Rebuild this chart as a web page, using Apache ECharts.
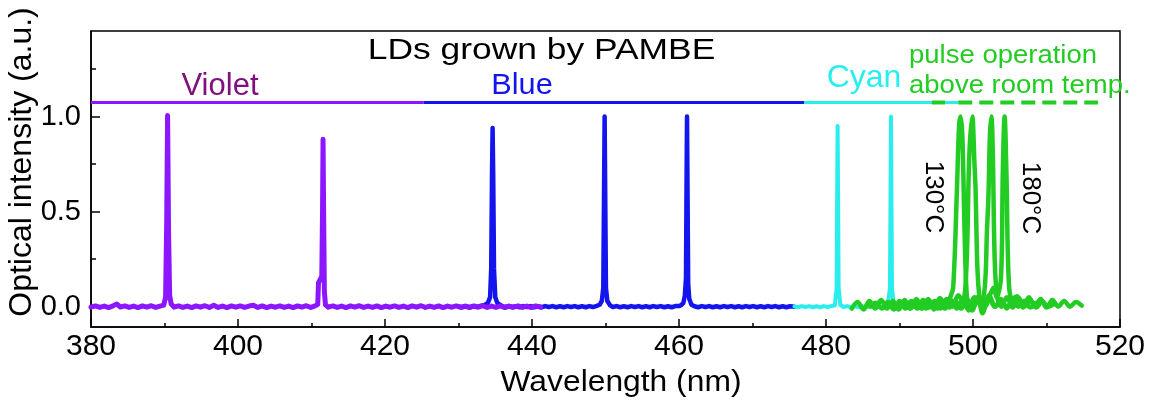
<!DOCTYPE html>
<html>
<head>
<meta charset="utf-8">
<script src="https://cdn.jsdelivr.net/npm/echarts@6/dist/echarts.min.js"></script>
<style>html,body{margin:0;padding:0;background:#fff;}#c{width:1156px;height:406px;}</style>
</head>
<body>
<div id="c"></div>
<script>
// ---- data (wavelength nm, intensity a.u.) ----
const xTicks = [380, 400, 420, 440, 460, 480, 500, 520];
const yMajorTicks = [0, 0.5, 1.0];
const yMinorTicks = [0.25, 0.75, 1.25];

const violetSpec = [[380.0,-0.003],[380.6,0.004],[381.2,-0.004],[381.8,0.003],[382.4,-0.005],[383.0,0.004],[383.5,0.014],[384.0,-0.002],[384.6,0.004],[385.2,-0.004],[385.8,0.003],[386.4,-0.005],[387.0,0.004],[387.6,-0.003],[388.2,0.005],[388.8,-0.004],[389.4,0.003],[389.9,0.008],[390.15,0.05],[390.3,0.45],[390.42,1.005],[390.55,0.40],[390.7,0.06],[390.9,0.015],[391.3,-0.003],[391.9,0.004],[392.5,-0.004],[393.1,0.003],[393.7,-0.005],[394.3,0.004],[394.9,-0.003],[395.5,0.005],[396.1,-0.004],[396.7,0.007],[397.3,-0.004],[397.9,0.003],[398.5,-0.005],[399.1,0.004],[399.7,-0.003],[400.3,0.004],[400.9,-0.004],[401.5,0.003],[402.1,0.007],[402.7,-0.004],[403.3,0.004],[403.9,-0.005],[404.5,0.003],[405.1,-0.003],[405.7,0.004],[406.3,-0.004],[406.9,0.003],[407.5,-0.005],[408.1,0.004],[408.7,-0.003],[409.3,0.005],[409.9,-0.004],[410.5,0.004],[410.85,0.012],[410.95,0.125],[411.2,0.135],[411.4,0.16],[411.5,0.5],[411.57,0.88],[411.65,0.5],[411.75,0.08],[411.9,0.01],[412.3,-0.003],[412.9,0.004],[413.5,-0.004],[414.1,0.003],[414.7,-0.005],[415.3,0.004],[415.9,-0.003],[416.5,0.005],[417.1,-0.004],[417.7,0.003],[418.3,-0.004],[418.9,0.004],[419.5,-0.005],[420.1,0.003],[420.7,-0.003],[421.3,0.004],[421.9,-0.004],[422.5,0.003],[423.1,-0.005],[423.7,0.004],[424.3,-0.003],[424.9,0.005],[425.5,-0.004],[426.1,0.003],[426.7,-0.004],[427.3,0.004],[427.9,-0.005],[428.5,0.003],[429.1,-0.003],[429.7,0.004],[430.3,-0.004],[430.9,0.003],[431.5,-0.005],[432.1,0.004],[432.7,-0.003],[433.3,0.005],[433.9,-0.004],[434.5,0.003],[435.1,-0.004],[435.7,0.004],[436.3,-0.005],[436.9,0.003],[437.5,-0.003],[438.1,0.004],[438.7,-0.004],[439.3,0.003],[439.9,-0.005],[440.5,0.004],[441.2,-0.003]];

const blueSpec = [[430.0,0.001],[430.5,-0.003],[431.0,0.003],[431.5,-0.003],[432.0,0.002],[432.5,-0.002],[433.0,0.004],[433.5,0.008],[434.0,0.02],[434.3,0.05],[434.45,0.2],[434.56,0.7],[434.64,0.94],[434.72,0.7],[434.83,0.2],[435.0,0.05],[435.3,0.018],[435.8,0.006],[436.3,-0.002],[436.8,0.003],[437.3,-0.003],[437.8,0.002],[438.3,-0.003],[438.8,0.003],[439.3,-0.002],[439.8,0.003],[440.3,-0.003],[440.8,0.002],[441.3,-0.003],[441.8,0.003],[442.3,-0.002],[442.8,0.003],[443.3,-0.003],[443.8,0.002],[444.3,-0.003],[444.8,0.003],[445.3,-0.002],[445.8,0.003],[446.3,-0.003],[446.8,0.002],[447.3,-0.003],[447.8,0.003],[448.3,-0.002],[448.8,0.004],[449.2,0.01],[449.5,0.03],[449.7,0.1],[449.8,0.6],[449.88,1.0],[449.96,0.6],[450.06,0.1],[450.25,0.03],[450.6,0.008],[451.0,-0.002],[451.5,0.003],[452.0,-0.003],[452.5,0.002],[453.0,-0.003],[453.5,0.003],[454.0,-0.002],[454.5,0.003],[455.0,-0.003],[455.5,0.002],[456.0,-0.003],[456.5,0.003],[457.0,-0.002],[457.5,0.003],[458.0,-0.003],[458.5,0.002],[459.0,-0.003],[459.5,0.003],[460.0,0.003],[460.3,0.008],[460.6,0.02],[460.8,0.06],[460.95,0.15],[461.02,0.6],[461.09,1.0],[461.16,0.6],[461.25,0.12],[461.4,0.04],[461.7,0.01],[462.1,0.002],[462.6,-0.003],[463.1,0.003],[463.6,-0.002],[464.1,0.003],[464.6,-0.003],[465.1,0.002],[465.6,-0.003],[466.1,0.003],[466.6,-0.002],[467.1,0.003],[467.6,-0.003],[468.1,0.002],[468.6,-0.003],[469.1,0.003],[469.6,-0.002],[470.1,0.003],[470.6,-0.003],[471.1,0.002],[471.6,-0.003],[472.1,0.003],[472.6,-0.002],[473.1,0.003],[473.6,-0.003],[474.1,0.002],[474.6,-0.003],[475.1,0.002],[475.7,0.000]];

const cyanSpec = [[475.7,0.001],[476.2,-0.003],[476.7,0.003],[477.2,-0.002],[477.7,0.003],[478.2,-0.003],[478.7,0.002],[479.2,-0.003],[479.7,0.003],[480.2,-0.002],[480.7,0.003],[481.2,0.006],[481.45,0.1],[481.52,0.6],[481.58,0.95],[481.64,0.6],[481.72,0.1],[481.95,0.01],[482.4,-0.002],[482.9,0.003],[483.4,-0.003],[483.9,0.002],[484.4,-0.003],[484.9,0.003],[485.4,-0.002],[485.9,0.003],[486.4,-0.003],[486.9,0.002],[487.4,-0.003],[487.9,0.003],[488.4,0.006],[488.7,0.1],[488.78,0.6],[488.84,1.0],[488.9,0.6],[488.98,0.1],[489.2,0.01],[489.7,0.0],[490.2,0.002]];

const green130 = [[483.5,-0.01],[484.3,0.025],[485.1,-0.015],[485.9,0.03],[486.7,-0.01],[487.5,0.035],[488.3,-0.01],[489.1,0.03],[489.9,-0.015],[490.7,0.035],[491.5,-0.01],[492.3,0.04],[493.1,-0.01],[493.9,0.04],[494.7,-0.015],[495.5,0.045],[496.3,-0.005],[496.9,0.05],[497.3,0.1],[497.8,0.6],[498.1,0.95],[498.3,1.0],[498.55,0.9],[498.85,0.4],[499.15,0.06],[499.5,0.0],[499.9,-0.02],[500.6,0.05],[501.4,-0.01],[502.2,0.04],[503.0,0.0],[503.8,0.03],[504.6,0.0],[505.4,0.025],[506.0,0.005]];

const green147 = [[486.0,0.0],[486.8,0.02],[487.6,-0.01],[488.4,0.025],[489.2,-0.015],[490.0,0.03],[490.8,-0.01],[491.6,0.03],[492.4,-0.01],[493.2,0.035],[494.0,-0.005],[494.8,0.03],[495.6,-0.01],[496.4,0.04],[497.2,0.0],[498.0,0.06],[498.6,0.03],[499.1,0.2],[499.5,0.8],[499.9,1.0],[500.2,0.75],[500.35,0.62],[500.6,0.2],[500.9,0.04],[501.3,-0.035],[502.2,0.06],[503.0,0.0],[503.8,0.04],[504.6,-0.01],[505.4,0.035],[506.2,0.0],[507.0,0.03],[507.8,-0.005],[508.6,0.02],[509.0,0.01]];

const green163 = [[489.0,0.01],[489.8,-0.01],[490.6,0.02],[491.4,-0.01],[492.2,0.025],[493.0,-0.01],[493.8,0.03],[494.6,-0.005],[495.4,0.03],[496.2,-0.01],[497.0,0.035],[497.8,-0.01],[498.6,0.04],[499.4,-0.02],[500.2,0.05],[501.0,0.01],[501.6,0.1],[501.9,0.4],[502.1,0.58],[502.3,0.9],[502.5,1.0],[502.7,0.8],[502.95,0.25],[503.3,0.05],[503.9,0.0],[504.6,0.05],[505.4,-0.005],[506.2,0.045],[507.0,0.0],[507.8,0.035],[508.6,-0.005],[509.4,0.03],[510.2,0.0],[511.0,0.015]];

const green180 = [[492.0,0.0],[492.8,0.02],[493.6,-0.01],[494.4,0.025],[495.2,-0.01],[496.0,0.03],[496.8,-0.005],[497.6,0.03],[498.4,-0.01],[499.2,0.035],[500.0,0.0],[500.8,0.045],[501.6,0.0],[502.4,0.07],[502.8,0.1],[503.2,0.05],[503.8,0.15],[504.05,0.7],[504.3,1.0],[504.55,0.7],[504.85,0.15],[505.3,0.04],[506.0,0.055],[506.8,-0.005],[507.6,0.05],[508.4,0.0],[509.2,0.04],[510.0,-0.005],[510.8,0.035],[511.6,0.0],[512.4,0.03],[513.2,0.0],[514.0,0.025],[514.8,0.005]];

// range bars (wavelength span, level)
const violetRange = [[380, 1.074], [425.25, 1.074]];
const blueRange = [[425.25, 1.074], [477.05, 1.074]];
const cyanRange = [[477.05, 1.074], [498.0, 1.074]];
const greenRangeA = [[494.4, 1.074], [496.2, 1.074]];
const greenRangeB = [[498.0, 1.074], [517.0, 1.074]];

// ---- chart ----
const FONT = 'Liberation Sans, Arial, sans-serif';
const C_VIOLET = '#8B16FF', C_BLUE = '#1414EE', C_CYAN = '#2AEEEE', C_GREEN = '#22CC22';

const chart = echarts.init(document.getElementById('c'));

function spec(data, color, width, smooth) {
  return { type: 'line', data: data, showSymbol: false, symbol: 'none', smooth: smooth || false,
    lineStyle: { color: color, width: width, join: 'round', cap: 'round' }, itemStyle: { color: color }, animation: false, silent: true };
}
function bar(data, color, width, dashed) {
  return { type: 'line', data: data, showSymbol: false, symbol: 'none',
    lineStyle: { color: color, width: width, type: dashed ? [14, 7] : 'solid' }, animation: false, silent: true };
}

chart.setOption({
  animation: false,
  backgroundColor: '#fff',
  grid: { left: 91, right: 36, top: 31, bottom: 79, show: true, borderColor: '#000', borderWidth: 1.5, backgroundColor: 'transparent' },
  xAxis: {
    type: 'value', min: 380, max: 520, interval: 20,
    axisLine: { onZero: false, lineStyle: { color: '#000', width: 1.5 } },
    axisTick: { inside: true, length: 8, lineStyle: { color: '#000', width: 1.5 } },
    minorTick: { show: true, splitNumber: 2, length: 4, lineStyle: { color: '#000', width: 1.5 } },
    axisLabel: { color: '#000', fontSize: 30, fontFamily: FONT, margin: 5, customValues: xTicks },
    splitLine: { show: false }, minorSplitLine: { show: false }
  },
  yAxis: [{
    type: 'value', min: -0.107, max: 1.45,
    axisLine: { onZero: false, lineStyle: { color: '#000', width: 1.5 } },
    axisTick: { inside: true, length: 9, customValues: yMajorTicks, lineStyle: { color: '#000', width: 1.5 } },
    axisLabel: { color: '#000', fontSize: 29, fontFamily: FONT, margin: 10, customValues: yMajorTicks,
      formatter: v => v.toFixed(1) },
    splitLine: { show: false }
  }, {
    type: 'value', min: -0.107, max: 1.45, position: 'left',
    axisLine: { show: false, onZero: false },
    axisTick: { show: true, inside: true, length: 5, customValues: yMinorTicks, lineStyle: { color: '#000', width: 1.5 } },
    axisLabel: { show: false },
    splitLine: { show: false }
  }],
  series: [
    spec(blueSpec, C_BLUE, 4.5),
    spec(violetSpec, C_VIOLET, 5),
    spec(cyanSpec, C_CYAN, 4),
    spec(green130, C_GREEN, 4.5, 0.35),
    spec(green147, C_GREEN, 4.5, 0.35),
    spec(green163, C_GREEN, 4.5, 0.35),
    spec(green180, C_GREEN, 4.5, 0.35),
    bar(violetRange, C_VIOLET, 3),
    bar(blueRange, C_BLUE, 3),
    bar(cyanRange, C_CYAN, 3),
    bar(greenRangeA, C_GREEN, 4),
    bar(greenRangeB, C_GREEN, 4, true)
  ],
  graphic: [
    { type: 'text', x: 541.5, y: 51, scaleX: 1.18, silent: true,
      style: { text: 'LDs grown by PAMBE', fontSize: 30, fontFamily: FONT, fill: '#000', align: 'center', verticalAlign: 'middle' } },
    { type: 'text', x: 220, y: 86, silent: true,
      style: { text: 'Violet', fontSize: 31, fontFamily: FONT, fill: '#80107F', align: 'center', verticalAlign: 'middle' } },
    { type: 'text', x: 522, y: 86, scaleX: 1.06, silent: true,
      style: { text: 'Blue', fontSize: 29, fontFamily: FONT, fill: C_BLUE, align: 'center', verticalAlign: 'middle' } },
    { type: 'text', x: 864, y: 78, silent: true,
      style: { text: 'Cyan', fontSize: 32, fontFamily: FONT, fill: C_CYAN, align: 'center', verticalAlign: 'middle' } },
    { type: 'text', x: 909, y: 56, scaleX: 1.1, silent: true,
      style: { text: 'pulse operation', fontSize: 25, fontFamily: FONT, fill: C_GREEN, align: 'left', verticalAlign: 'middle' } },
    { type: 'text', x: 909, y: 86, scaleX: 1.1, silent: true,
      style: { text: 'above room temp.', fontSize: 25, fontFamily: FONT, fill: C_GREEN, align: 'left', verticalAlign: 'middle' } },
    { type: 'text', x: 933, y: 197, rotation: -Math.PI / 2, silent: true,
      style: { text: '130°C', fontSize: 26, fontFamily: FONT, fill: '#000', align: 'center', verticalAlign: 'middle' } },
    { type: 'text', x: 1030, y: 198, rotation: -Math.PI / 2, silent: true,
      style: { text: '180°C', fontSize: 26, fontFamily: FONT, fill: '#000', align: 'center', verticalAlign: 'middle' } },
    { type: 'text', x: 621, y: 383, scaleX: 1.06, silent: true,
      style: { text: 'Wavelength (nm)', fontSize: 30, fontFamily: FONT, fill: '#000', align: 'center', verticalAlign: 'middle' } },
    { type: 'text', x: 22, y: 162, rotation: Math.PI / 2, silent: true,
      style: { text: 'Optical intensity (a.u.)', fontSize: 32, fontFamily: FONT, fill: '#000', align: 'center', verticalAlign: 'middle' } }
  ]
});
</script>
</body>
</html>
